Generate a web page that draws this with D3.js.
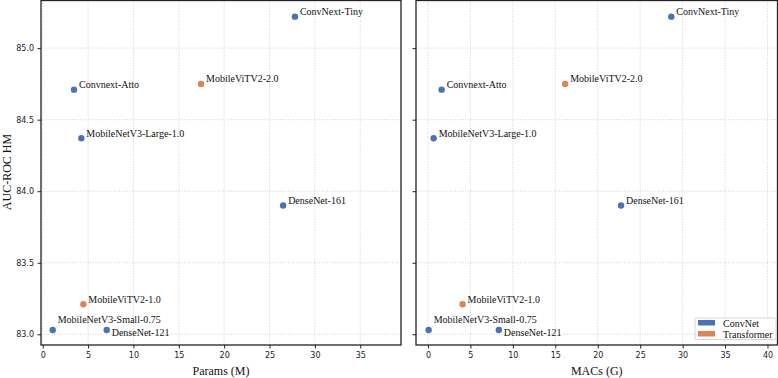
<!DOCTYPE html>
<html>
<head>
<meta charset="utf-8">
<script src="https://cdn.jsdelivr.net/npm/d3@7"></script>
<style>
  body { margin: 0; background: #fff; }
  svg { display: block; }
</style>
</head>
<body>
<svg width="778" height="378"></svg>
<script>
// data
const models = ["ConvNext-Tiny", "Convnext-Atto", "MobileViTV2-2.0", "MobileNetV3-Large-1.0",
                "DenseNet-161", "MobileViTV2-1.0", "MobileNetV3-Small-0.75", "DenseNet-121"];
const families = ["ConvNet", "ConvNet", "Transformer", "ConvNet",
                  "ConvNet", "Transformer", "ConvNet", "ConvNet"];
const params = [27.8, 3.45, 17.45, 4.26, 26.5, 4.48, 1.1, 7.05];
const macs = [28.67, 1.61, 16.16, 0.67, 22.75, 4.08, 0.08, 8.35];
const auc = [85.22, 84.71, 84.75, 84.37, 83.90, 83.21, 83.03, 83.03];
const familyNames = ["ConvNet", "Transformer"];
const yTicks = [83.0, 83.5, 84.0, 84.5, 85.0];
const paramTicks = [0, 5, 10, 15, 20, 25, 30, 35];
const macTicks = [0, 5, 10, 15, 20, 25, 30, 35, 40];

const color = d3.scaleOrdinal().domain(familyNames).range(["#4c72b0", "#dd8452"]);
const serif = "'Liberation Serif', 'Times New Roman', serif";
const sans = "'DejaVu Sans', sans-serif";

// label placement tweaks (dy of baseline relative to the point)
const labelDy = {"MobileNetV3-Small-0.75": -7, "DenseNet-121": 6.5};

const data = models.map((m, i) => ({
  name: m, family: families[i], params: params[i], macs: macs[i], auc: auc[i]
}));

const svg = d3.select("svg");
const plotTop = 0.5, plotBottom = 345;

const y = d3.scaleLinear().domain([82.925, 85.333]).range([plotBottom, plotTop]);

const panels = [
  {left: 41, right: 401, key: "params", domain: [-0.19, 39.49], ticks: paramTicks,
   label: "Params (M)", yLabels: true, legend: false},
  {left: 416, right: 777.5, key: "macs", domain: [-1.41, 41.18], ticks: macTicks,
   label: "MACs (G)", yLabels: false, legend: true}
];

panels.forEach(p => {
  const x = d3.scaleLinear().domain(p.domain).range([p.left, p.right]);
  const g = svg.append("g");

  // grid
  g.selectAll("line.vgrid").data(p.ticks).enter().append("line")
    .attr("class", "vgrid")
    .attr("x1", d => x(d)).attr("x2", d => x(d))
    .attr("y1", plotTop).attr("y2", plotBottom)
    .attr("stroke", "#c8c8c8").attr("stroke-width", 0.8)
    .attr("stroke-dasharray", "1,1.6");
  g.selectAll("line.hgrid").data(yTicks).enter().append("line")
    .attr("class", "hgrid")
    .attr("x1", p.left).attr("x2", p.right)
    .attr("y1", d => y(d)).attr("y2", d => y(d))
    .attr("stroke", "#c8c8c8").attr("stroke-width", 0.8)
    .attr("stroke-dasharray", "1,1.6");

  // axes
  const xAxis = g.append("g")
    .attr("transform", `translate(0, ${plotBottom})`)
    .call(d3.axisBottom(x).tickValues(p.ticks).tickSize(3.5).tickPadding(3.5)
      .tickFormat(d3.format("d")));
  const yAxis = g.append("g")
    .attr("transform", `translate(${p.left}, 0)`)
    .call(d3.axisLeft(y).tickValues(yTicks).tickSize(3.5).tickPadding(3.5)
      .tickFormat(p.yLabels ? d3.format(".1f") : ""));
  [xAxis, yAxis].forEach(a => {
    a.select(".domain").remove();
    a.selectAll(".tick line").attr("stroke", "#222").attr("stroke-width", 1);
    a.selectAll("text").attr("fill", "#222").style("font-family", sans).style("font-size", "8px");
  });

  // frame
  g.append("rect")
    .attr("x", p.left).attr("y", plotTop)
    .attr("width", p.right - p.left).attr("height", plotBottom - plotTop)
    .attr("fill", "none").attr("stroke", "#222").attr("stroke-width", 1.3);

  // points
  g.selectAll("circle").data(data).enter().append("circle")
    .attr("cx", d => x(d[p.key]))
    .attr("cy", d => y(d.auc))
    .attr("r", 3.2)
    .attr("fill", d => color(d.family));

  // annotations
  g.selectAll("text.lbl").data(data).enter().append("text")
    .attr("class", "lbl")
    .attr("x", d => x(d[p.key]) + 5)
    .attr("y", d => y(d.auc) + (labelDy[d.name] !== undefined ? labelDy[d.name] : -1.7))
    .style("font-family", serif)
    .style("font-size", "10px")
    .attr("fill", "#111")
    .text(d => d.name);

  // x label
  g.append("text")
    .attr("x", (p.left + p.right) / 2)
    .attr("y", 375)
    .attr("text-anchor", "middle")
    .style("font-family", serif)
    .style("font-size", "12px")
    .attr("fill", "#111")
    .text(p.label);

  if (p.legend) {
    const lg = g.append("g").attr("transform", "translate(695, 318)");
    lg.append("rect")
      .attr("width", 81).attr("height", 21.5).attr("rx", 1.5)
      .attr("fill", "#fff").attr("stroke", "#cccccc").attr("stroke-width", 0.8);
    const items = lg.selectAll("g.item").data(familyNames).enter().append("g")
      .attr("class", "item")
      .attr("transform", (d, i) => `translate(3, ${2 + i * 11})`);
    items.append("rect")
      .attr("width", 17).attr("height", 5.5)
      .attr("fill", d => color(d));
    items.append("text")
      .attr("x", 25).attr("y", 6.5)
      .style("font-family", serif).style("font-size", "10px")
      .attr("fill", "#111")
      .text(d => d);
  }
});

// y label
svg.append("text")
  .attr("transform", "translate(10.5, 172) rotate(-90)")
  .attr("text-anchor", "middle")
  .style("font-family", serif)
  .style("font-size", "12px")
  .attr("fill", "#111")
  .text("AUC-ROC HM");
</script>
</body>
</html>
